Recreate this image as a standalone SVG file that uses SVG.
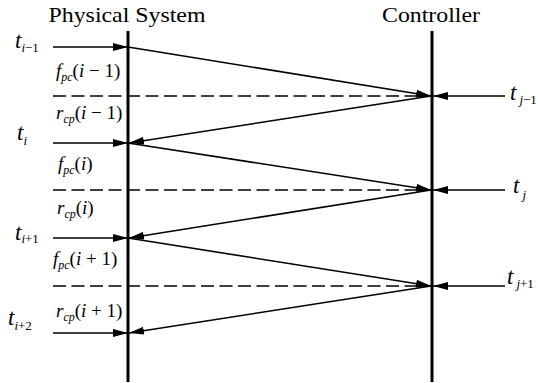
<svg xmlns="http://www.w3.org/2000/svg" width="538" height="383" viewBox="0 0 538 383">
<style>
.title{font-family:"Liberation Serif","Times New Roman",serif;font-size:22px;fill:#000}
.m{font-family:"Liberation Serif","Times New Roman",serif;font-style:italic;fill:#000}
.t{font-size:23px}
.s{font-size:13px}
.lbl{font-size:19px}
.sub{font-size:12px}
.up{font-style:normal}
.axis{stroke:#000;stroke-width:3;fill:none}
.msg{stroke:#000;stroke-width:1.6;fill:none;marker-end:url(#ah)}
.dash{stroke:#000;stroke-width:1.6;fill:none;stroke-dasharray:13 5.5}
</style>
<defs>
<marker id="ah" markerUnits="userSpaceOnUse" markerWidth="16" markerHeight="9" refX="15" refY="4" orient="auto">
<path d="M0,0 L15,4 L0,8 z" fill="#000"/>
</marker>
</defs>
<g id="physical-system">
<text class="title" x="127" y="22" text-anchor="middle" textLength="157" lengthAdjust="spacingAndGlyphs">Physical System</text>
<line class="axis" x1="128" y1="31" x2="128" y2="382"/>
</g>
<g id="controller">
<text class="title" x="431" y="22" text-anchor="middle" textLength="98" lengthAdjust="spacingAndGlyphs">Controller</text>
<line class="axis" x1="432" y1="31" x2="432" y2="382"/>
</g>
<g id="connectors">
<line class="msg" x1="53" y1="47" x2="128" y2="47"/>
<line class="msg" x1="53" y1="143" x2="128" y2="143"/>
<line class="msg" x1="53" y1="238" x2="128" y2="238"/>
<line class="msg" x1="53" y1="333" x2="128" y2="333"/>
<line class="msg" x1="505" y1="96" x2="433" y2="96"/>
<line class="msg" x1="505" y1="190" x2="433" y2="190"/>
<line class="msg" x1="505" y1="286" x2="433" y2="286"/>
<line class="dash" x1="53" y1="96" x2="425" y2="96"/>
<line class="dash" x1="53" y1="190" x2="425" y2="190"/>
<line class="dash" x1="53" y1="286" x2="425" y2="286"/>
<line class="msg" x1="128" y1="47" x2="431" y2="96"/>
<line class="msg" x1="431" y1="96" x2="129" y2="143"/>
<line class="msg" x1="128" y1="143" x2="431" y2="190"/>
<line class="msg" x1="431" y1="190" x2="129" y2="238"/>
<line class="msg" x1="128" y1="238" x2="431" y2="286"/>
<line class="msg" x1="431" y1="286" x2="129" y2="333"/>
</g>
<g id="labels">
<text class="m t" x="15" y="48">t<tspan class="s" dy="4">i</tspan><tspan class="s up">−1</tspan></text>
<text class="m t" x="17" y="140">t<tspan class="s" dy="5">i</tspan></text>
<text class="m t" x="15" y="240">t<tspan class="s" dy="3">i</tspan><tspan class="s up">+1</tspan></text>
<text class="m t" x="8" y="325">t<tspan class="s" dy="5">i</tspan><tspan class="s up">+2</tspan></text>
<text class="m t" x="510" y="100">t<tspan class="s" dy="4" dx="3">j</tspan><tspan class="s up">−1</tspan></text>
<text class="m t" x="513" y="193">t<tspan class="s" dy="6" dx="3">j</tspan></text>
<text class="m t" x="507" y="284">t<tspan class="s" dy="4" dx="3">j</tspan><tspan class="s up">+1</tspan></text>
<text class="m lbl" x="56" y="77">f<tspan class="sub" dy="4">pc</tspan><tspan class="up" dy="-4">(</tspan>i<tspan class="up"> − 1)</tspan></text>
<text class="m lbl" x="56" y="119">r<tspan class="sub" dy="4">cp</tspan><tspan class="up" dy="-4">(</tspan>i<tspan class="up"> − 1)</tspan></text>
<text class="m lbl" x="58" y="170">f<tspan class="sub" dy="4">pc</tspan><tspan class="up" dy="-4">(</tspan>i<tspan class="up">)</tspan></text>
<text class="m lbl" x="57" y="214">r<tspan class="sub" dy="4">cp</tspan><tspan class="up" dy="-4">(</tspan>i<tspan class="up">)</tspan></text>
<text class="m lbl" x="53" y="265">f<tspan class="sub" dy="4">pc</tspan><tspan class="up" dy="-4">(</tspan>i<tspan class="up"> + 1)</tspan></text>
<text class="m lbl" x="56" y="317">r<tspan class="sub" dy="4">cp</tspan><tspan class="up" dy="-4">(</tspan>i<tspan class="up"> + 1)</tspan></text>
</g>
</svg>
